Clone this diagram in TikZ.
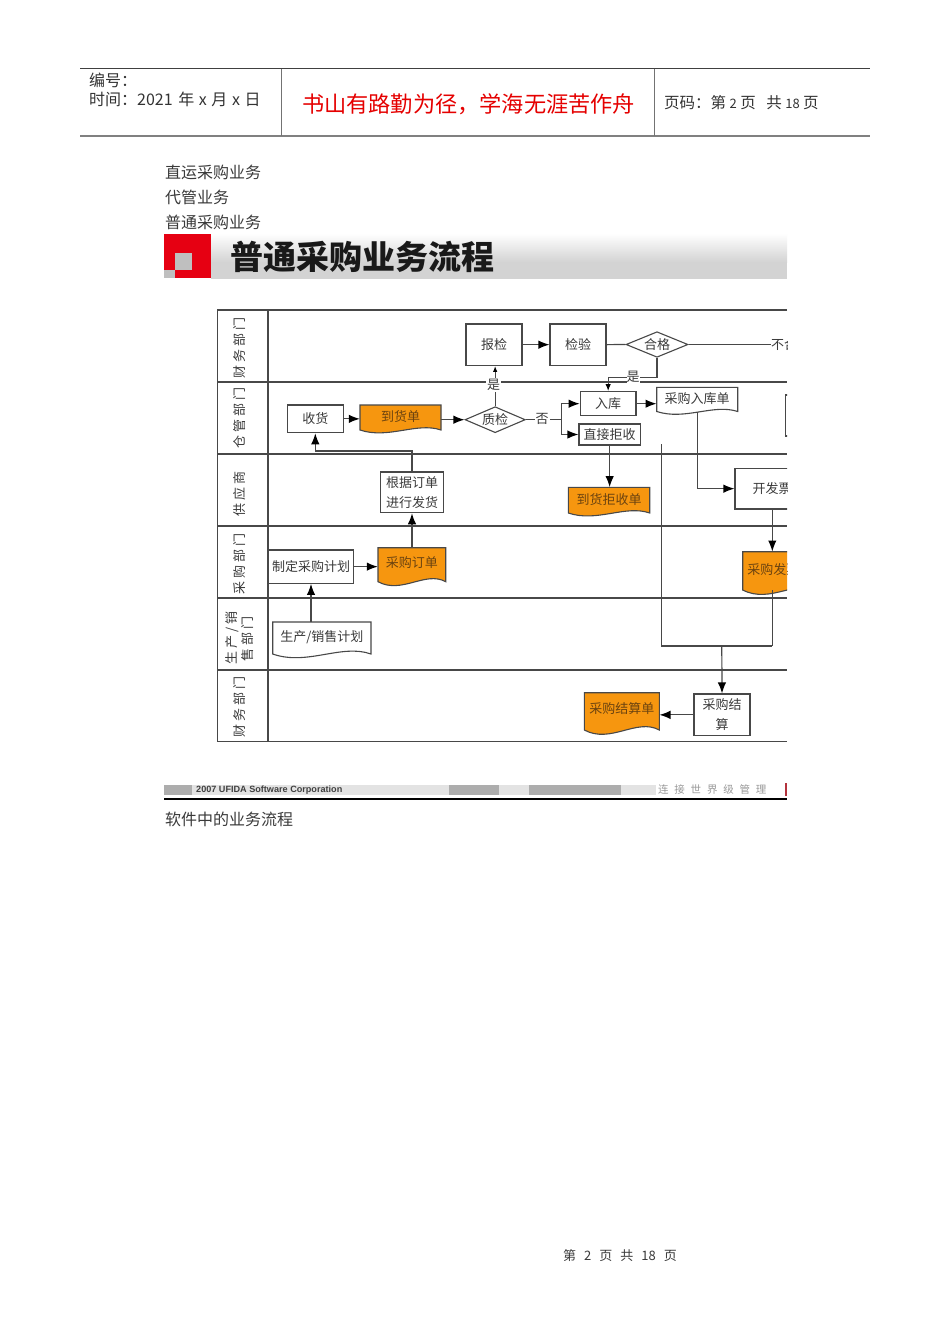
\documentclass[tikz,border=0pt]{standalone}
\usepackage{fontspec}
\setmainfont{Noto Sans CJK SC}
\newfontfamily\lanefont[LetterSpace=22]{Noto Sans CJK SC}
\newfontfamily\sloganfont[LetterSpace=55]{Noto Sans CJK SC}
\newfontfamily\latinfont{Liberation Sans}
\usetikzlibrary{arrows.meta,shapes.geometric,calc}
\definecolor{ink}{HTML}{3A3A3A}
\definecolor{linec}{HTML}{484848}
\definecolor{docorange}{HTML}{F6960F}
\definecolor{docink}{HTML}{6B4310}
\definecolor{bandgrey}{HTML}{D3D3D3}
\definecolor{brandred}{HTML}{E60012}
\newcommand{\fs}[1]{\fontsize{#1}{#1}\selectfont}
\tikzset{
  x=1pt,y=-1pt,
  lane/.style={draw=linec,line width=1.1pt},
  boxn/.style={draw=linec,line width=1.2pt,fill=white,inner sep=0pt,align=center,text=ink,font=\fs{13}},
  docnode/.style={inner sep=0pt,align=center,text=ink,font=\fs{13}},
  orangetxt/.style={text=docink},
  docline/.style={draw=linec,line width=1.1pt},
  diam/.style={diamond,draw=linec,line width=1.1pt,fill=white,inner sep=0pt},
  difftext/.style={inner sep=0pt,text=ink,font=\fs{13}},
  conn/.style={draw=linec,line width=1.2pt},
  arr/.style={conn,-{Latex[length=11pt,width=8.5pt,color=black]}},
  tag/.style={inner sep=1pt,fill=white,text=ink,font=\fs{13}},
  lanetxt/.style={inner sep=0pt,rotate=90,text=ink,font=\lanefont\fs{13}},
  body/.style={anchor=west,inner sep=0pt,text=ink,font=\fs{16}},
  hdr/.style={anchor=west,inner sep=0pt,text=black!80,font=\fs{16}},
}
% rectangle node: style, name, x1, y1, x2, y2, text
\newcommand{\rectnode}[7]{%
  \pgfmathsetmacro\bw{#5-#3}\pgfmathsetmacro\bh{#6-#4}%
  \node[#1,minimum width=\bw pt,minimum height=\bh pt] (#2) at ({(#3+#5)/2},{(#4+#6)/2}) {#7};}
% document: fill, text style, name, x1, y1, x2, y2 (y2 = end of straight sides), text
\newcommand{\docshape}[8]{%
  \pgfmathsetmacro\bw{#6-#4}\pgfmathsetmacro\bh{#7-#5}%
  \fill[#1] (#4,#5) -- (#6,#5) -- (#6,#7) .. controls ({#6-0.30*\bw},{#7-0.33*\bh}) and ({#4+0.35*\bw},{#7+0.38*\bh}) .. (#4,#7) -- cycle;
  \draw[docline] (#4,#5) -- (#6,#5) -- (#6,#7) .. controls ({#6-0.30*\bw},{#7-0.33*\bh}) and ({#4+0.35*\bw},{#7+0.38*\bh}) .. (#4,#7) -- cycle;
  \node[docnode,#2,minimum width=\bw pt,minimum height=\bh pt] (#3) at ({(#4+#6)/2},{(#5+#7)/2}) {#8};}
\begin{document}
\begin{tikzpicture}
\useasboundingbox (0,0) rectangle (950,1344);
\fill[white] (0,0) rectangle (950,1344);

% page header
\coordinate (hl) at (80,68.5); \coordinate (hr) at (870,68.5);
\coordinate (bl) at (80,136); \coordinate (br) at (870,136);
\draw[draw=black!75,line width=0.9pt] (hl) -- (hr);
\draw[draw=black!50,line width=1.4pt] (bl) -- (br);
\draw[draw=black!55,line width=0.8pt] (281,68.5) -- (281,136);
\draw[draw=black!55,line width=0.8pt] (654.5,68.5) -- (654.5,136);
\node[hdr] (h1) at (89,80) {编号：};
\node[hdr] (h2) at (89,99) {时间：2021\hspace{2pt} 年\hspace{1pt} x\hspace{1pt} 月\hspace{1pt} x\hspace{1pt} 日};
\node[inner sep=0pt,text=red!90!black,font=\fs{22.2}] (h3) at (468.5,104) {书山有路勤为径，学海无涯苦作舟};
\node[hdr,font=\fs{15.5}] (h4) at (664,103) {页码：第 \fs{13}2\fs{15.5} 页\hspace{7pt} 共 \fs{13}18\fs{15.5} 页};

% body text
\node[body] (t1) at (165,172) {直运采购业务};
\node[body] (t2) at (165,197) {代管业务};
\node[body] (t3) at (165,222) {普通采购业务};
\node[body] (t4) at (165,819) {软件中的业务流程};
\node[inner sep=0pt,text=ink,font=\fs{13}] (pg) at (620,1256) {第\hspace{8pt}2\hspace{8pt}页\hspace{8pt}共\hspace{8pt}18\hspace{8pt}页};

% banner
\shade[top color=white,bottom color=bandgrey] (211,233.5) rectangle (787,262);
\fill[bandgrey] (211,262) rectangle (787,279);
\fill[brandred] (164,233.5) rectangle (211,278);
\fill[black!25] (175,253) rectangle (191.5,270);
\fill[black!25] (164,270) rectangle (175,278);
\node[inner sep=0pt,text=black!90,font=\bfseries\fs{33}] (ttl) at (362.5,257) {普通采购业务流程};

% banner footer
\fill[black!11] (164,785) rectangle (656,794.5);
\fill[black!32] (164,785) rectangle (192,794.5);
\fill[black!32] (449,785) rectangle (499,794.5);
\fill[black!32] (529,785) rectangle (621,794.5);
\fill[brandred!70!black!80] (784.5,783) rectangle (787,796);
\node[anchor=west,inner sep=0pt,text=black!75,font=\latinfont\bfseries\fs{9.1}] (corp) at (196,790) {2007 UFIDA Software Corporation};
\node[anchor=west,inner sep=0pt,text=black!40,font=\sloganfont\fs{10.5}] (slog) at (658,789.5) {连接世界级管理};
\draw[draw=black,line width=1.1pt] (164,799) -- (787,799);

\begin{scope}
\clip (164,300) rectangle (787,760);
% swimlanes
\draw[lane] (787,310) -- (217.5,310) -- (217.5,741.8) -- (787,741.8);
\draw[lane] (268,310) -- (268,741.8);
\foreach \yy in {382,454,526,598,670} \draw[lane] (217.5,\yy) -- (787,\yy);
\node[lanetxt] (l1) at (240,348) {财务部门};
\node[lanetxt] (l2) at (240,418) {仓管部门};
\node[lanetxt] (l3) at (240,494) {供应商};
\node[lanetxt] (l4) at (240,564) {采购部门};
\node[lanetxt] (l5a) at (232,638) {生产/销};
\node[lanetxt] (l5b) at (248,639) {售部门};
\node[lanetxt] (l6) at (240,707) {财务部门};

% long return line (behind)
\coordinate (va) at (661.7,444);
\coordinate (vb) at (661.7,646);
\coordinate (vc) at (772.3,646);
\coordinate (vm) at (721.8,646);
\coordinate (xsx) at (311,0);

% process boxes
\rectnode{boxn}{bj}{466}{324}{522}{365.3}{报检}
\rectnode{boxn}{jy}{550}{324}{606}{365.3}{检验}
\rectnode{boxn}{sh}{287.3}{405}{343.3}{432.7}{收货}
\rectnode{boxn}{rk}{580.3}{391.7}{636}{415.7}{入库}
\rectnode{boxn}{jj}{579}{424}{640.3}{445}{直接拒收}
\rectnode{boxn}{fh}{380.7}{472}{443.3}{512.7}{根据订单\\[7pt]进行发货}
\rectnode{boxn}{kfp}{735}{468.3}{817}{509}{\hspace*{-8pt}开发票}
\rectnode{boxn}{zd}{268.7}{550}{353.3}{583.3}{制定采购计划}
\rectnode{boxn}{js}{694}{694}{750}{735.7}{采购结\\[7pt]算}
\rectnode{boxn}{edge}{785.3}{395}{860}{436}{}

% diamonds
\rectnode{diam}{hg}{626}{331.7}{688}{357.3}{}
\node[difftext] (hgt) at (hg) {合格};
\rectnode{diam}{zj}{465}{406.7}{525.3}{432.7}{}
\node[difftext] (zjt) at (zj) {质检};

% documents
\docshape{docorange}{orangetxt}{dhd}{360}{405}{441}{430}{\raisebox{3pt}{到货单}}
\docshape{white}{}{rkd}{656.7}{387.3}{737.7}{411.5}{\raisebox{3pt}{采购入库单}}
\docshape{docorange}{orangetxt}{jsdan}{568.3}{487.3}{649.7}{513}{\raisebox{2pt}{到货拒收单}}
\docshape{docorange}{orangetxt}{dd}{378}{547.7}{445.7}{581.7}{\raisebox{5pt}{采购订单}}
\docshape{white}{}{xs}{272.7}{622}{371}{654}{\raisebox{3pt}{生产/销售计划}}
\docshape{docorange}{orangetxt}{fp}{742.7}{551.7}{823}{590}{\hspace*{-19pt}\raisebox{3pt}{采购发票}}
\docshape{docorange}{orangetxt}{jsd}{584.3}{692.7}{659.3}{730}{\raisebox{6pt}{采购结算单}}

% connectors
\draw[arr] (bj.east) -- (jy.west);
\draw[conn] (jy.east) -- (hg.west);
\coordinate (bh) at (771,344.5);
\draw[conn] (hg.east) -- (bh);
\node[anchor=west,inner sep=0pt,text=ink,font=\fs{13},fill=white] (bhg) at (bh) {不合格};
\draw[arr] (sh.east) -- (sh.east -| dhd.west);
\draw[arr] (dhd.east |- zj.west) -- (zj.west);
\draw[arr,-{Latex[length=6pt,width=4.5pt,color=black]}] (zj.north) -- (zj.north |- bj.south);
\node[tag] (shi1) at (493.5,385) {是};
\coordinate (sp) at (561.5,419.7);
\draw[conn] (zj.east) -- (sp);
\draw[arr] (sp) |- (rk.west);
\draw[arr] (sp) |- (jj.west);
\node[tag] (fou) at (542,419) {否};
\coordinate (hgb) at (657,377.7);
\draw[arr,-{Latex[length=7pt,width=5.5pt,color=black]}] (hg.south) -- (hgb) -- (rk.north |- hgb) -- (rk.north);
\node[tag,inner sep=0pt] (shi2) at (633,377) {是};
\draw[arr] (rk.east) -- (rk.east -| rkd.west);
\draw[arr] (jj.south) -- (jj.south |- jsdan.north);
\draw[arr] (rkd.south) |- (kfp.west);
\coordinate (fhup) at (412,451);
\draw[arr] (dd.north -| fh.south) -- (fh.south);
\draw[arr] (fh.north) -- (fhup) -| (sh.south);
\draw[arr] (zd.east) -- (zd.east -| dd.west);
\draw[arr] (xs.north -| xsx) -- (zd.south -| xsx);
\draw[arr] (vc |- kfp.south) -- (vc |- fp.north);
\draw[conn] (vc |- fp.south) -- (vc);
\draw[conn] (va) -- (vb) -- (vc);
\draw[arr] (vm) -- (js.north);
\draw[arr] (js.west) -- (js.west -| jsd.east);
\end{scope}
\end{tikzpicture}
\end{document}
